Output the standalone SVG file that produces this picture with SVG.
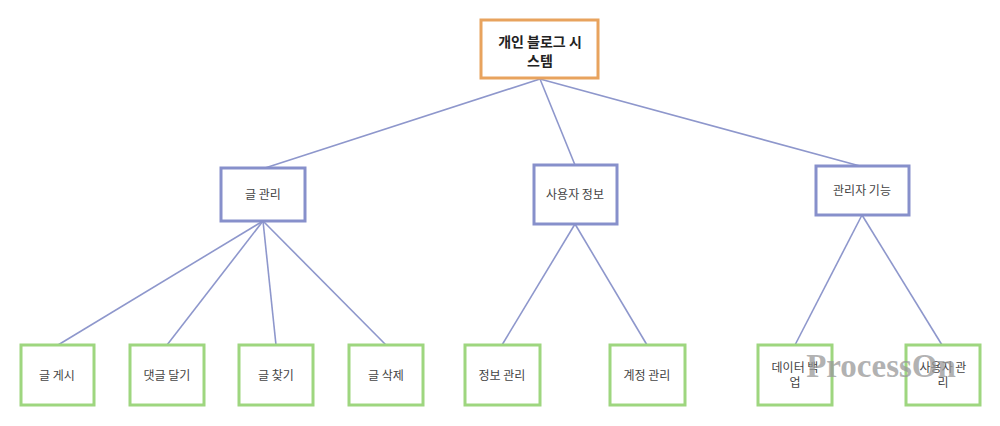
<svg xmlns="http://www.w3.org/2000/svg" width="1000" height="426" viewBox="0 0 1000 426">
<style>
text{font-family:"Noto Sans CJK KR","Noto Sans",sans-serif;font-size:12px;fill:#444;text-anchor:middle}
.root rect{fill:#fff;stroke:#E8A35E;stroke-width:3}
.mid rect{fill:#fff;stroke:#8790CB;stroke-width:3}
.leaf rect{fill:#fff;stroke:#9ED67F;stroke-width:3}
.root text{font-size:14px;font-weight:bold;fill:#222}
#connectors line{stroke:#8E97CC;stroke-width:1.6}
.wm{font-family:"Liberation Serif",serif;font-size:33px;font-weight:bold;fill:#999;fill-opacity:0.75}
</style>
<rect width="1000" height="426" fill="#fff"/>
<g id="connectors">
<line x1="540" y1="79" x2="265" y2="168"/>
<line x1="540" y1="79" x2="575" y2="165"/>
<line x1="540" y1="79" x2="860" y2="166"/>
<line x1="263" y1="221" x2="58" y2="345"/>
<line x1="263" y1="221" x2="167" y2="345"/>
<line x1="263" y1="221" x2="276" y2="345"/>
<line x1="263" y1="221" x2="386" y2="345"/>
<line x1="575" y1="224" x2="502" y2="345"/>
<line x1="575" y1="224" x2="647" y2="345"/>
<line x1="862" y1="215" x2="795" y2="345"/>
<line x1="862" y1="215" x2="942" y2="345"/>
</g>
<g id="root" class="root"><rect x="481" y="20" width="117" height="58"/><text x="540" y="47">개인 블로그 시</text><text x="540" y="66">스템</text></g>
<g id="n-post" class="mid"><rect x="221" y="168" width="84" height="53"/><text x="263" y="199">글 관리</text></g>
<g id="n-user" class="mid"><rect x="534" y="165" width="83" height="59"/><text x="575" y="199">사용자 정보</text></g>
<g id="n-admin" class="mid"><rect x="816" y="166" width="93" height="49"/><text x="862" y="195">관리자 기능</text></g>
<g id="l1" class="leaf"><rect x="21" y="345" width="73" height="60"/><text x="57" y="380">글 게시</text></g>
<g id="l2" class="leaf"><rect x="130" y="345" width="74" height="60"/><text x="167" y="380">댓글 달기</text></g>
<g id="l3" class="leaf"><rect x="239" y="345" width="74" height="60"/><text x="276" y="380">글 찾기</text></g>
<g id="l4" class="leaf"><rect x="349" y="345" width="74" height="60"/><text x="386" y="380">글 삭제</text></g>
<g id="l5" class="leaf"><rect x="465" y="345" width="75" height="60"/><text x="502" y="380">정보 관리</text></g>
<g id="l6" class="leaf"><rect x="610" y="345" width="75" height="60"/><text x="647" y="380">계정 관리</text></g>
<g id="l7" class="leaf"><rect x="758" y="345" width="74" height="60"/><text x="795" y="372">데이터 백</text><text x="795" y="387">업</text></g>
<g id="l8" class="leaf"><rect x="906" y="345" width="74" height="60"/><text x="943" y="372">사용자 관</text><text x="943" y="387">리</text></g>
<text class="wm" x="881" y="377">ProcessOn</text>
</svg>
